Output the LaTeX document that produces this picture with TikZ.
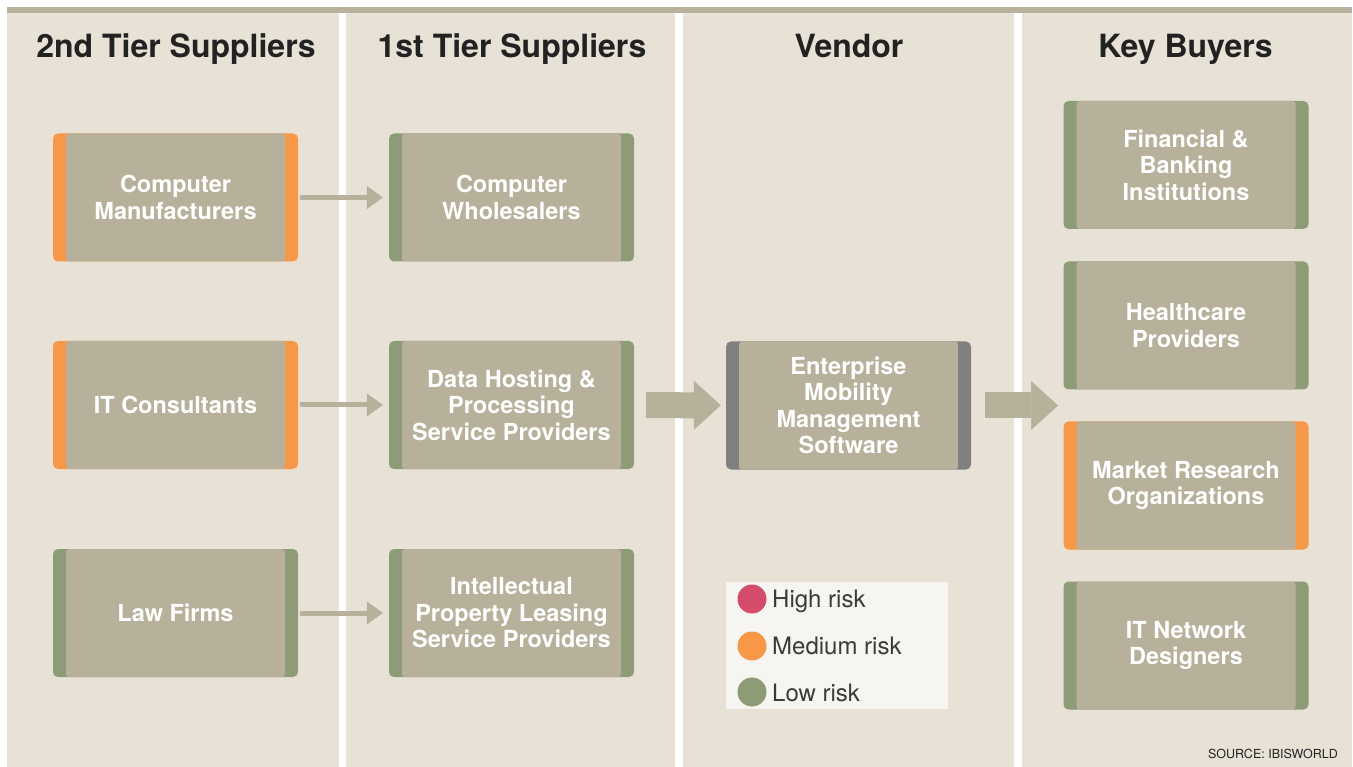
\documentclass[tikz,border=0pt]{standalone}
\usepackage{fontspec}
\setmainfont{TeX Gyre Heros}
\usetikzlibrary{arrows.meta}

\definecolor{topbar}{HTML}{B8B19B}
\definecolor{panel}{HTML}{E8E2D6}
\definecolor{boxfill}{HTML}{B7B09A}
\definecolor{riskhigh}{HTML}{D34C69}
\definecolor{riskmed}{HTML}{F79849}
\definecolor{risklow}{HTML}{8D9C77}
\definecolor{vendorgrey}{HTML}{808080}
\definecolor{legendbg}{HTML}{F7F5F1}
\definecolor{ink}{HTML}{222222}
\definecolor{legendink}{HTML}{3A3A3A}

\begin{document}
\begin{tikzpicture}[x=1pt,y=-1pt,
  columnbg/.style={fill=panel},
  heading/.style={font=\bfseries\fontsize{32}{38}\selectfont, text=ink, inner sep=0pt, anchor=base},
  tierbox/.style={fill=#1, rounded corners=5pt, minimum width=245pt, minimum height=128pt,
    inner sep=0pt, align=center, text=white, font=\bfseries\fontsize{23.5}{26.5}\selectfont,
    path picture={\fill[boxfill, rounded corners=3pt]
      ([xshift=13pt]path picture bounding box.south west) rectangle
      ([xshift=-13pt]path picture bounding box.north east);}},
  feed/.style={draw=boxfill, line width=5pt,
    -{Triangle[length=16pt,width=23pt,line width=0.5pt]}, shorten <=2pt, shorten >=6pt},
  flow/.style={draw=boxfill, line width=26pt,
    -{Triangle[length=27pt,width=49pt,line width=0.5pt]}, shorten <=12pt, shorten >=5pt},
  legenddot/.style={circle, fill=#1, minimum size=29pt, inner sep=0pt},
  legendtext/.style={anchor=base west, inner sep=0pt, text=legendink, font=\fontsize{24}{28}\selectfont}
]
\useasboundingbox (0,0) rectangle (1353,767);
\fill[white] (0,0) rectangle (1353,767);

% column backgrounds and top rule
\fill[topbar] (7,7) rectangle (1352,13);
\fill[columnbg] (7,13) rectangle (339,767);
\fill[columnbg] (346,13) rectangle (675,767);
\fill[columnbg] (683,13) rectangle (1014,767);
\fill[columnbg] (1022,13) rectangle (1352,767);

% column headings
\node[heading] (h1) at (176,58) {2nd Tier Suppliers};
\node[heading] (h2) at (512,58) {1st Tier Suppliers};
\node[heading] (h3) at (849,58) {Vendor};
\node[heading] (h4) at (1185.5,58) {Key Buyers};

% 2nd tier suppliers
\node[tierbox=riskmed] (cman) at (175.5,197.5) {Computer\\Manufacturers};
\node[tierbox=riskmed] (itc) at (175.5,405) {IT Consultants};
\node[tierbox=risklow] (law) at (175.5,613) {Law Firms};

% 1st tier suppliers
\node[tierbox=risklow] (cwhole) at (511.5,197.5) {Computer\\Wholesalers};
\node[tierbox=risklow] (dhost) at (511.5,405) {Data Hosting \&\\Processing\\Service Providers};
\node[tierbox=risklow] (iplease) at (511.5,613) {Intellectual\\Property Leasing\\Service Providers};

% vendor
\node[tierbox=vendorgrey] (ems) at (848.5,405.5) {Enterprise\\Mobility\\Management\\Software};

% key buyers
\node[tierbox=risklow] (fin) at (1186,165) {Financial \&\\Banking\\Institutions};
\node[tierbox=risklow] (health) at (1186,325.5) {Healthcare\\Providers};
\node[tierbox=riskmed] (market) at (1186,485.5) {Market Research\\Organizations};
\node[tierbox=risklow] (itnet) at (1186,645.5) {IT Network\\Designers};

% supply arrows
\draw[feed] (cman) -- (cwhole);
\draw[feed] (itc) -- (dhost);
\draw[feed] (law) -- (iplease);
\draw[flow] (dhost) -- (ems);
\coordinate (buyers) at (1063,405.5);
\draw[flow, shorten <=14pt] (ems.east) -- (buyers);

% risk legend
\node[fill=legendbg, minimum width=222pt, minimum height=127pt, inner sep=0pt] (legend) at (837,645.5) {};
\node[legenddot=riskhigh] (dhigh) at (752,599) {};
\node[legenddot=riskmed] (dmed) at (752,646) {};
\node[legenddot=risklow] (dlow) at (752,692) {};
\node[legendtext] (thigh) at (772,607) {High risk};
\node[legendtext] (tmed) at (772,654) {Medium risk};
\node[legendtext] (tlow) at (772,701) {Low risk};

% source note
\node[anchor=base east, inner sep=0pt, text=ink, font=\fontsize{12.5}{15}\selectfont] (src) at (1338,758) {SOURCE: IBISWORLD};
\end{tikzpicture}
\end{document}
